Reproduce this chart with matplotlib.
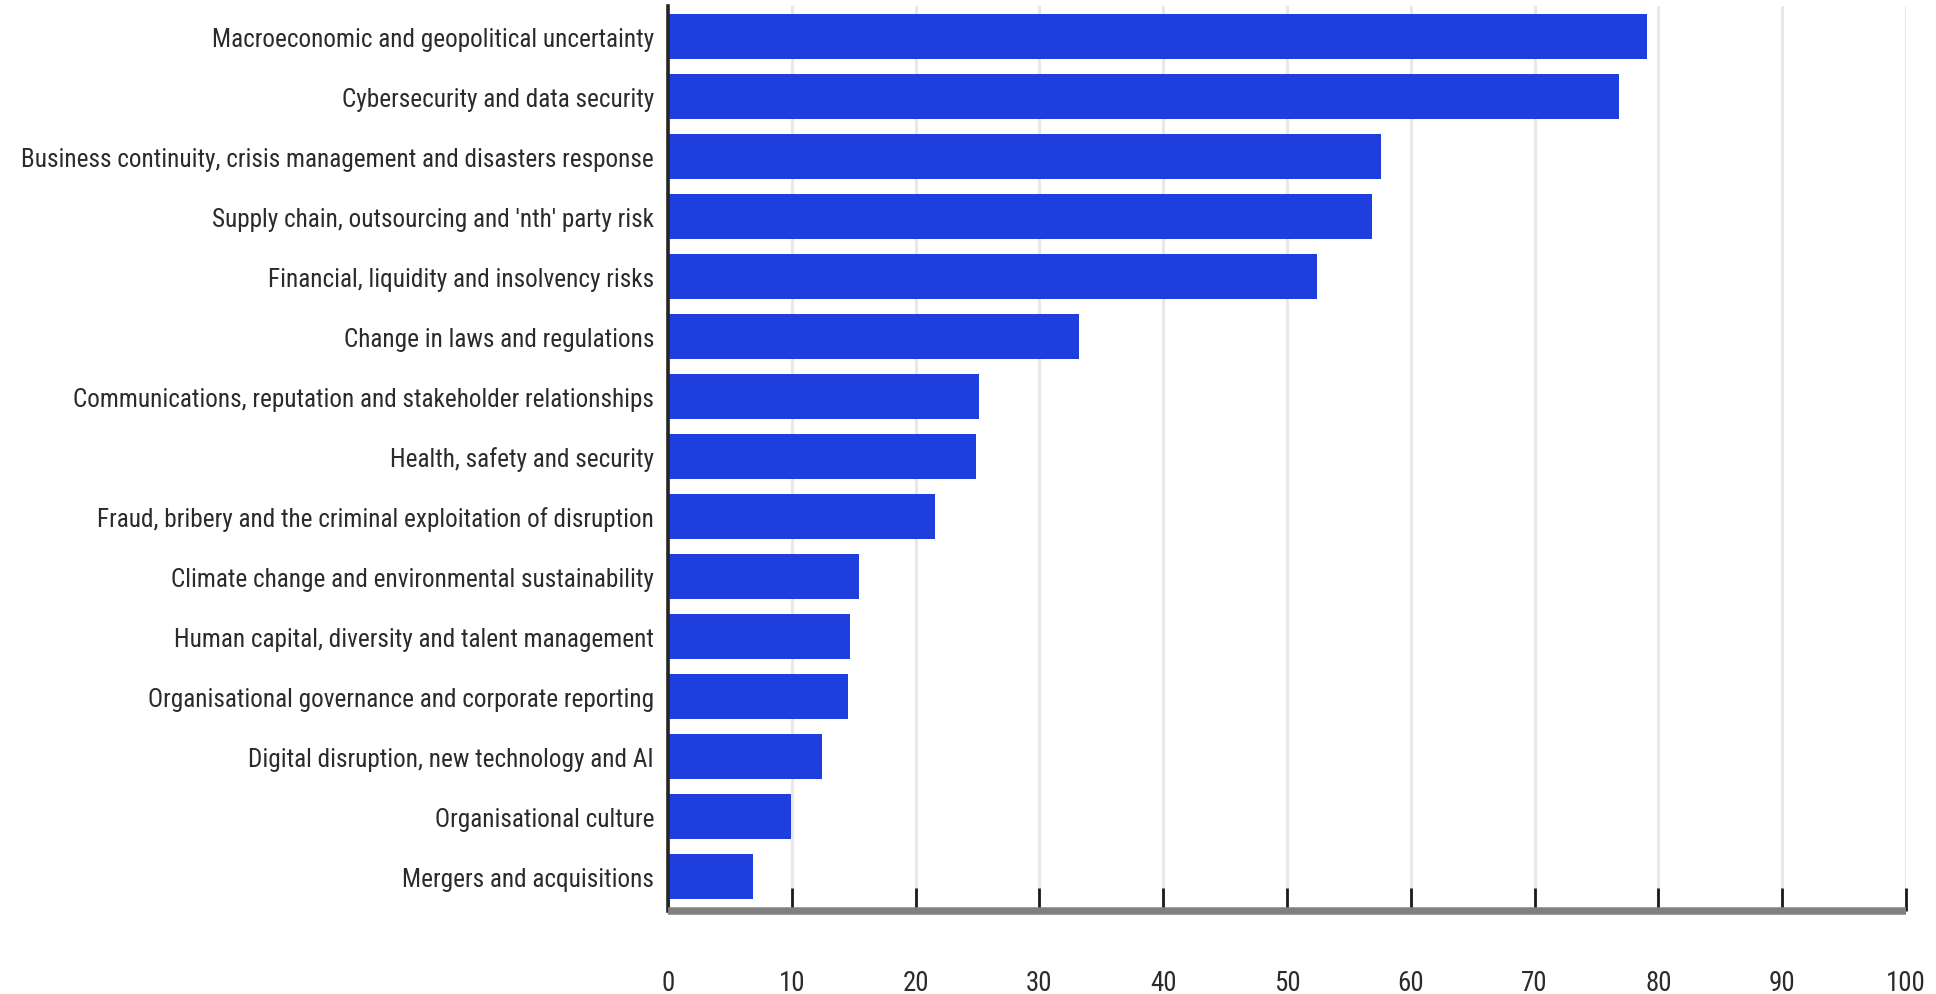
import matplotlib
matplotlib.use("Agg")
import matplotlib.pyplot as plt
from matplotlib import font_manager
import numpy as np

categories = [
    "Macroeconomic and geopolitical uncertainty",
    "Cybersecurity and data security",
    "Business continuity, crisis management and disasters response",
    "Supply chain, outsourcing and 'nth' party risk",
    "Financial, liquidity and insolvency risks",
    "Change in laws and regulations",
    "Communications, reputation and stakeholder relationships",
    "Health, safety and security",
    "Fraud, bribery and the criminal exploitation of disruption",
    "Climate change and environmental sustainability",
    "Human capital, diversity and talent management",
    "Organisational governance and corporate reporting",
    "Digital disruption, new technology and AI",
    "Organisational culture",
    "Mergers and acquisitions",
]
values = [79.1, 76.8, 57.6, 56.9, 52.4, 33.2, 25.1, 24.9, 21.6, 15.4, 14.7, 14.5, 12.4, 9.95, 6.9]
x_ticks = [0, 10, 20, 30, 40, 50, 60, 70, 80, 90, 100]

# choose a narrow font if one is installed
flist = font_manager.fontManager.ttflist
names = {f.name for f in flist}
stretch = "normal"
family = "DejaVu Sans"
for cand in ["Roboto Condensed", "Open Sans Condensed", "Liberation Sans Narrow"]:
    if cand in names:
        family = cand
        break
else:
    for f in flist:
        if f.name in ("DejaVu Sans", "Noto Sans", "Open Sans", "Roboto") and \
                str(f.stretch) in ("condensed", "semi-condensed", "500", "600", "625", "700") and \
                f.style == "normal" and str(f.weight) in ("400", "normal", "regular"):
            family = f.name
            stretch = "condensed"
            break
plt.rcParams["font.family"] = [family, "DejaVu Sans"]
plt.rcParams["font.stretch"] = stretch

W, H = 1936, 995
fig = plt.figure(figsize=(W / 100, H / 100), dpi=100)
left, right, top, bottom = 668, 1906, 7, 912
ax = fig.add_axes([left / W, 1 - bottom / H, (right - left) / W, (bottom - top) / H])

y = np.arange(len(categories))
ax.barh(y, values, height=0.75, color="#1e3edd", zorder=3)
ax.set_ylim(len(categories) - 1 + 0.575, -0.508)
ax.set_xlim(0, 100)
ax.set_xticks(x_ticks)
ax.set_yticks(y)
ax.set_yticklabels(categories)

ax.grid(axis="x", color="#e8e8e8", linewidth=2.2, zorder=0)
ax.grid(axis="y", visible=False)
ax.set_axisbelow(True)

for s in ("top", "right"):
    ax.spines[s].set_visible(False)
ax.spines["left"].set_color("#262626")
ax.spines["left"].set_linewidth(2.6)
ax.spines["left"].set_zorder(4)
ax.spines["bottom"].set_color("#808080")
ax.spines["bottom"].set_linewidth(5.4)
ax.spines["bottom"].set_capstyle("butt")
ax.spines["bottom"].set_zorder(4)

ax.tick_params(axis="y", length=0, pad=10, labelcolor="#2b2b2b")
ax.tick_params(axis="x", direction="in", length=16.5, width=2.0, color="#1a1a1a",
               pad=42, labelcolor="#2b2b2b")

# fit label font sizes to the reference's measured text widths
fs = 14
for t in ax.get_yticklabels() + ax.get_xticklabels():
    t.set_fontsize(fs)
fig.canvas.draw()
r = fig.canvas.get_renderer()
wmax = max(t.get_window_extent(r).width for t in ax.get_yticklabels())
fs_y = fs * 636 / wmax
w100 = [t for t in ax.get_xticklabels() if t.get_text() == "100"][0].get_window_extent(r).width
fs_x = fs * 40 / w100
for t in ax.get_yticklabels():
    t.set_fontsize(fs_y)
for t in ax.get_xticklabels():
    t.set_fontsize(fs_x)

fig.savefig("out.png", dpi=100, facecolor="white")
